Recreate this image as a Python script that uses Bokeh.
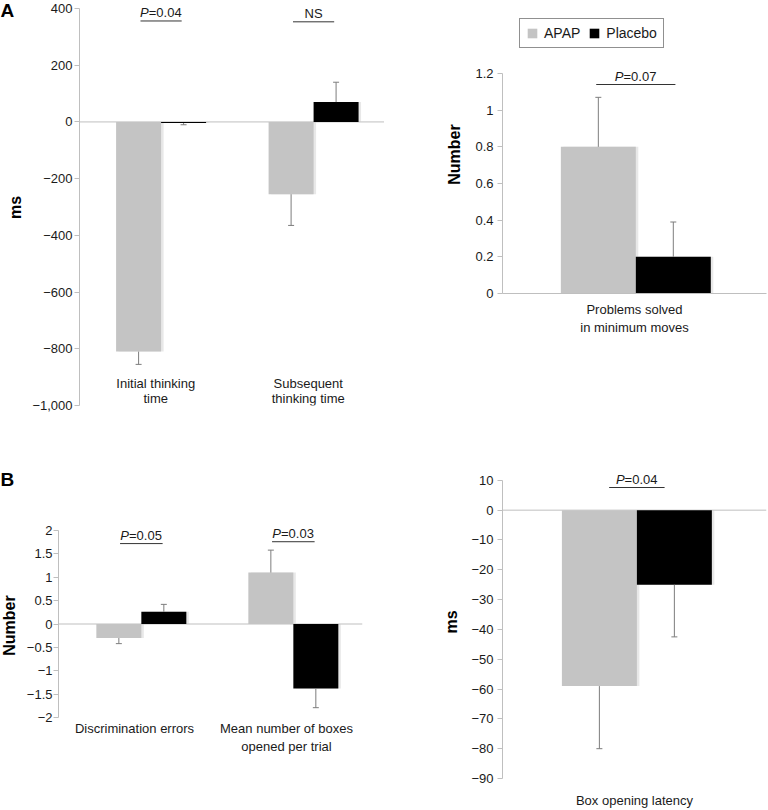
import math
from bokeh.plotting import figure
from bokeh.models import (FactorRange, Range1d, ColumnDataSource, Span, LabelSet,
                          Legend, LegendItem, FixedTicker)
from bokeh.transform import dodge
from bokeh.layouts import row, column
from bokeh.embed import file_html
from bokeh.resources import INLINE
from bokeh.core.properties import value

# ---------------- data ----------------
a_left_categories = ["Initial thinking\ntime", "Subsequent\nthinking time"]
a_left_apap = [-810, -255]
a_left_apap_err = [45, 110]
a_left_placebo = [-4, 70]
a_left_placebo_err = [6, 70]
a_left_ticks = [-1000, -800, -600, -400, -200, 0, 200, 400]
a_left_tick_labels = ["\u22121,000", "\u2212800", "\u2212600", "\u2212400", "\u2212200", "0", "200", "400"]
a_left_sig_p = ["P", ""]
a_left_sig_text = ["=0.04", "NS"]
a_left_sig_y = [356, 353]

a_right_categories = ["Problems solved\nin minimum moves"]
a_right_apap = [0.8]
a_right_apap_err = [0.27]
a_right_placebo = [0.2]
a_right_placebo_err = [0.19]
a_right_ticks = [0, 0.2, 0.4, 0.6, 0.8, 1, 1.2]
a_right_tick_labels = ["0", "0.2", "0.4", "0.6", "0.8", "1", "1.2"]
a_right_sig_p = ["P"]
a_right_sig_text = ["=0.07"]
a_right_sig_y = [1.14]

b_left_categories = ["Discrimination errors", "Mean number of boxes\nopened per trial"]
b_left_apap = [-0.3, 1.1]
b_left_apap_err = [0.12, 0.48]
b_left_placebo = [0.26, -1.38]
b_left_placebo_err = [0.16, 0.41]
b_left_ticks = [-2, -1.5, -1, -0.5, 0, 0.5, 1, 1.5, 2]
b_left_tick_labels = ["\u22122", "\u22121.5", "\u22121", "\u22120.5", "0", "0.5", "1", "1.5", "2"]
b_left_sig_p = ["P", "P"]
b_left_sig_text = ["=0.05", "=0.03"]
b_left_sig_y = [1.72, 1.76]

b_right_categories = ["Box opening latency"]
b_right_apap = [-59]
b_right_apap_err = [21]
b_right_placebo = [-25]
b_right_placebo_err = [17.5]
b_right_ticks = [-90, -80, -70, -60, -50, -40, -30, -20, -10, 0, 10]
b_right_tick_labels = ["\u221290", "\u221280", "\u221270", "\u221260", "\u221250", "\u221240",
                       "\u221230", "\u221220", "\u221210", "0", "10"]
b_right_sig_p = ["P"]
b_right_sig_text = ["=0.04"]
b_right_sig_y = [7.6]

series_names = ["APAP", "Placebo"]

# ---------------- style ----------------
FONT = "Liberation Sans"
GRAY = "#c4c4c4"
BLACK = "#000000"
ERR = "#7d7d7d"
AXIS = "#bfbfbf"
TXT = "#1a1a1a"


def ends(vals, errs):
    return [v + e if v >= 0 else v - e for v, e in zip(vals, errs)]


def strip(width, height, letter, letter_top, ylabel, ylabel_x, ylabel_top):
    s = figure(width=width, height=height, title=None,
               x_range=Range1d(0, width), y_range=Range1d(0, height),
               x_axis_location=None, y_axis_location=None,
               output_backend="svg", toolbar_location=None, min_border=0,
               frame_align=False)
    s.outline_line_color = None
    s.grid.visible = False
    s.background_fill_color = "white"
    s.border_fill_color = "white"
    s.text(x=[0], y=[height - letter_top], text=[letter], text_align="left",
           text_baseline="top", text_font=value(FONT), text_font_size="19px",
           text_font_style="bold", text_color="#000000")
    s.text(x=[ylabel_x], y=[height - ylabel_top], text=[ylabel], angle=math.pi / 2,
           text_align="center", text_baseline="middle", text_font=value(FONT),
           text_font_size="16px", text_font_style="bold", text_color="#000000")
    return s


def make_panel(cats, apap, apap_err, plc, plc_err, ticks, tick_labels, ylabel,
               width, height, borders, head_px, shift, half, sig_p, sig_text, sig_y,
               bracket_half, xmode, tick_standoff, ylabel_standoff, cat_standoff=6):
    left, right, top, bottom = borders
    ymin, ymax = min(ticks), max(ticks)
    frame_h = height - top - bottom
    y_end = ymax + head_px * (ymax - ymin) / (frame_h - head_px)
    p = figure(width=width, height=height, title=None,
               x_range=FactorRange(factors=cats, range_padding=0),
               y_range=Range1d(ymin, y_end),
               x_axis_location=(None if xmode == "text" else "below"),
               output_backend="svg", toolbar_location=None, frame_align=False,
               min_border_left=left, min_border_right=right,
               min_border_top=top, min_border_bottom=bottom)
    p.outline_line_color = None
    p.background_fill_color = "white"
    p.border_fill_color = "white"
    p.grid.visible = False

    unit_px = (width - left - right) / len(cats)
    sh = 2.5 / unit_px

    src = ColumnDataSource(dict(cat=cats, apap=apap, apap_end=ends(apap, apap_err),
                                plc=plc, plc_end=ends(plc, plc_err)))

    if xmode != "axis":
        p.add_layout(Span(location=0, dimension="width", line_color=AXIS, line_width=1,
                          level="underlay"))

    # soft shadows
    for col, off in (("apap", -half), ("plc", half)):
        p.vbar(x=dodge("cat", shift + off + sh, range=p.x_range), top=col, bottom=0,
               width=2 * half, source=src, fill_color="#cccccc", fill_alpha=0.45,
               line_color=None)

    rends = []
    for col, off, color in (("apap", -half, GRAY), ("plc", half, BLACK)):
        r = p.vbar(x=dodge("cat", shift + off, range=p.x_range), top=col, bottom=0,
                   width=2 * half, source=src, fill_color=color, line_color=None)
        rends.append(r)
        p.segment(x0=dodge("cat", shift + off, range=p.x_range), y0=col,
                  x1=dodge("cat", shift + off, range=p.x_range), y1=col + "_end",
                  source=src, line_color=ERR, line_width=1)
        p.scatter(x=dodge("cat", shift + off, range=p.x_range), y=col + "_end",
                  marker="dash", size=6, source=src, line_color=ERR, line_width=1)

    # y axis
    ya = p.yaxis[0]
    ya.ticker = FixedTicker(ticks=ticks)
    ya.bounds = (ymin, ymax)
    ya.major_label_overrides = {t: l for t, l in zip(ticks, tick_labels)}
    ya.axis_line_color = AXIS
    ya.major_tick_line_color = AXIS
    ya.major_tick_out = 5
    ya.major_tick_in = 0
    ya.minor_tick_line_color = None
    ya.major_label_standoff = tick_standoff
    ya.major_label_text_font = FONT
    ya.major_label_text_font_size = "13px"
    ya.major_label_text_color = TXT
    if ylabel:
        ya.axis_label = ylabel
        ya.axis_label_text_font = FONT
        ya.axis_label_text_font_size = "16px"
        ya.axis_label_text_font_style = "bold"
        ya.axis_label_text_color = "#000000"
        ya.axis_label_standoff = ylabel_standoff

    if xmode == "text":
        p.text(x="cat", y=ymin, text="cat", source=src, text_align="center",
               text_baseline="bottom", text_font=value(FONT), text_font_size="13px",
               text_color=TXT, text_line_height=1.0)
    else:
        xa = p.xaxis[0]
        xa.axis_line_color = AXIS if xmode == "axis" else None
        xa.major_tick_line_color = None
        xa.major_tick_out = 0
        xa.major_tick_in = 0
        xa.minor_tick_line_color = None
        xa.major_label_standoff = cat_standoff
        xa.major_label_text_font = FONT
        xa.major_label_text_font_size = "13px"
        xa.major_label_text_color = TXT

    # significance brackets
    sig_src = ColumnDataSource(dict(x=cats, y=sig_y))
    p.segment(x0=dodge("x", shift - bracket_half, range=p.x_range), y0="y",
              x1=dodge("x", shift + bracket_half, range=p.x_range), y1="y",
              source=sig_src, line_color="#333333", line_width=1)
    it = [i for i, s in enumerate(sig_p) if s]
    pl = [i for i, s in enumerate(sig_p) if not s]
    if it:
        s_it = ColumnDataSource(dict(x=[cats[i] for i in it], y=[sig_y[i] for i in it],
                                     p=[sig_p[i] for i in it], t=[sig_text[i] for i in it]))
        p.add_layout(LabelSet(x=dodge("x", shift, range=p.x_range), y="y", text="p",
                              source=s_it, x_offset=-21, y_offset=1, text_align="left",
                              text_baseline="bottom", text_font=value(FONT),
                              text_font_size="13px", text_font_style="italic",
                              text_color=TXT))
        p.add_layout(LabelSet(x=dodge("x", shift, range=p.x_range), y="y", text="t",
                              source=s_it, x_offset=-12.3, y_offset=1, text_align="left",
                              text_baseline="bottom", text_font=value(FONT),
                              text_font_size="13px", text_color=TXT))
    if pl:
        s_pl = ColumnDataSource(dict(x=[cats[i] for i in pl], y=[sig_y[i] for i in pl],
                                     t=[sig_text[i] for i in pl]))
        p.add_layout(LabelSet(x=dodge("x", shift, range=p.x_range), y="y", text="t",
                              source=s_pl, y_offset=1, text_align="center",
                              text_baseline="bottom", text_font=value(FONT),
                              text_font_size="13px", text_color=TXT))
    return p, rends


s1 = strip(28, 420, "A", -1, "ms", 15, 207)
p1, _ = make_panel(a_left_categories, a_left_apap, a_left_apap_err, a_left_placebo,
                   a_left_placebo_err, a_left_ticks, a_left_tick_labels, None,
                   356, 420, (51, 0, 0, 15), 8, 0.035, 0.1475,
                   a_left_sig_p, a_left_sig_text, a_left_sig_y, 0.135, "text", 2, 4)

p2, r2 = make_panel(a_right_categories, a_right_apap, a_right_apap_err, a_right_placebo,
                    a_right_placebo_err, a_right_ticks, a_right_tick_labels, "Number",
                    384, 420, (118, 2, 15, 127), 58, 0.005, 0.142,
                    a_right_sig_p, a_right_sig_text, a_right_sig_y, 0.15, "axis", 4, 9, 8)
legend = Legend(items=[LegendItem(label=series_names[0], renderers=[r2[0]]),
                       LegendItem(label=series_names[1], renderers=[r2[1]])],
                location=(17, 245), orientation="horizontal", margin=0, padding=6,
                spacing=8, label_standoff=6, glyph_width=12, glyph_height=12,
                label_height=14, label_text_font=FONT, label_text_font_size="14px",
                label_text_color=TXT, border_line_color="#222222", border_line_width=1,
                background_fill_color="white", background_fill_alpha=1)
p2.add_layout(legend)

s3 = strip(22, 390, "B", 48, "Number", 8.5, 205)
p3, _ = make_panel(b_left_categories, b_left_apap, b_left_apap_err, b_left_placebo,
                   b_left_placebo_err, b_left_ticks, b_left_tick_labels, None,
                   362, 390, (36, 22, 102, 93), 8, 0.045, 0.148,
                   b_left_sig_p, b_left_sig_text, b_left_sig_y, 0.14, "labels", 1, 4, 3)

p4, _ = make_panel(b_right_categories, b_right_apap, b_right_apap_err, b_right_placebo,
                   b_right_placebo_err, b_right_ticks, b_right_tick_labels, "ms",
                   384, 390, (118, 2, 45, 29), 15, 0.009, 0.142,
                   b_right_sig_p, b_right_sig_text, b_right_sig_y, 0.105, "labels", 4, 8, 14)

layout = column(row(s1, p1, p2), row(s3, p3, p4))

with open("out.html", "w") as f:
    f.write(file_html(layout, INLINE))
